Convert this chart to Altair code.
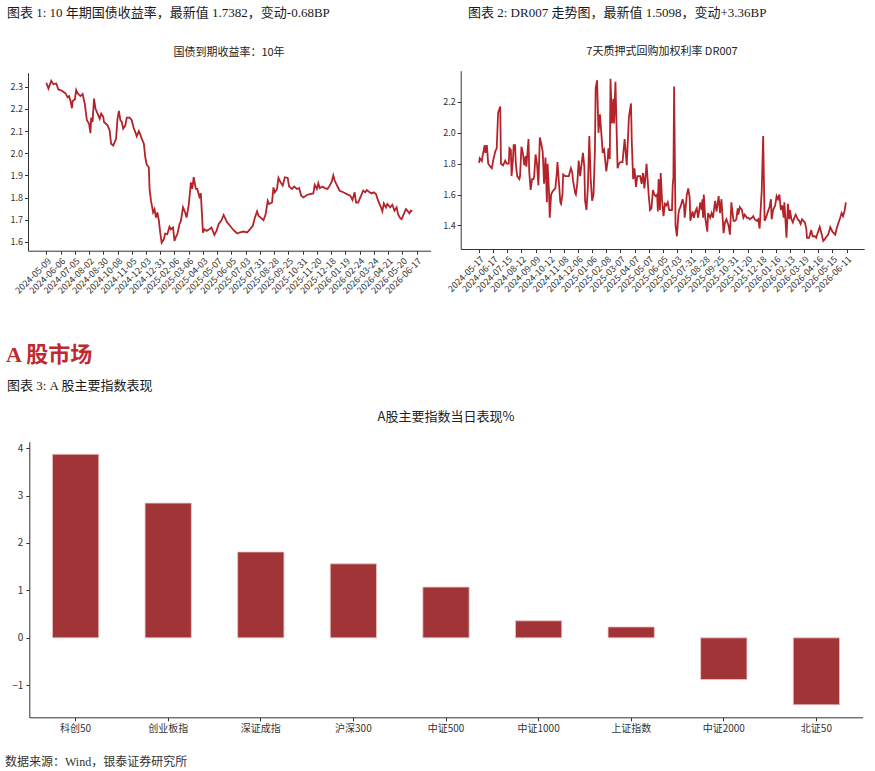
import altair as alt
import pandas as pd

# ---------------- data ----------------
# 10Y government bond yield (trading-day index, yield %)
bond_idx = [0, 3, 7, 10, 14, 17, 22, 27, 30, 32,
            34, 36, 37, 40, 42, 44, 48, 51, 54, 57,
            60, 62, 63, 65, 67, 69, 72, 75, 77, 80,
            81, 86, 89, 91, 94, 96, 98, 100, 102, 104,
            106, 108, 111, 113, 117, 120, 123, 125, 127, 130,
            132, 134, 137, 139, 141, 144, 145, 147, 150, 152,
            154, 156, 158, 160, 162, 165, 167, 170, 173, 175,
            178, 180, 182, 184, 187, 189, 192, 195, 197, 200,
            202, 203, 205, 207, 210, 212, 215, 217, 220, 222,
            225, 229, 232, 236, 239, 242, 246, 249, 254, 258,
            263, 268, 272, 277, 282, 286, 290, 293, 296, 298,
            301, 305, 308, 311, 313, 317, 319, 321, 324, 326,
            329, 332, 335, 339, 341, 345, 348, 352, 355, 358,
            361, 366, 370, 375, 377, 380, 382, 384, 388, 391,
            395, 398, 401, 403, 405, 409, 412, 417, 422, 427,
            430, 433, 435, 438, 441, 445, 448, 450, 454, 457,
            460, 463, 466, 470, 472, 474, 477, 479, 483, 486,
            489, 492, 494, 497, 499, 502, 505, 507, 510, 512,
            514]
bond_val = [2.318, 2.292, 2.327, 2.312, 2.315, 2.288, 2.282, 2.270, 2.252, 2.258,
            2.236, 2.203, 2.236, 2.243, 2.285, 2.270, 2.258, 2.267, 2.224, 2.149,
            2.134, 2.091, 2.161, 2.141, 2.247, 2.202, 2.179, 2.156, 2.179, 2.164,
            2.141, 2.126, 2.103, 2.043, 2.035, 2.050, 2.065, 2.156, 2.191, 2.149,
            2.141, 2.111, 2.126, 2.161, 2.161, 2.149, 2.111, 2.096, 2.076, 2.100,
            2.085, 2.066, 2.043, 1.982, 1.949, 1.937, 1.839, 1.786, 1.733, 1.748,
            1.710, 1.733, 1.698, 1.642, 1.597, 1.612, 1.638, 1.635, 1.668, 1.657,
            1.665, 1.605, 1.623, 1.635, 1.680, 1.695, 1.756, 1.733, 1.710, 1.767,
            1.831, 1.869, 1.839, 1.892, 1.839, 1.839, 1.804, 1.819, 1.642, 1.657,
            1.650, 1.657, 1.665, 1.632, 1.650, 1.680, 1.698, 1.722, 1.688, 1.673,
            1.653, 1.638, 1.643, 1.647, 1.643, 1.657, 1.673, 1.710, 1.738, 1.718,
            1.710, 1.698, 1.725, 1.786, 1.771, 1.778, 1.846, 1.824, 1.839, 1.889,
            1.869, 1.854, 1.892, 1.889, 1.850, 1.839, 1.850, 1.839, 1.843, 1.809,
            1.801, 1.812, 1.816, 1.819, 1.858, 1.839, 1.865, 1.843, 1.850, 1.843,
            1.839, 1.854, 1.873, 1.900, 1.877, 1.850, 1.831, 1.824, 1.816, 1.809,
            1.789, 1.824, 1.778, 1.778, 1.801, 1.831, 1.824, 1.834, 1.824, 1.819,
            1.824, 1.816, 1.786, 1.756, 1.738, 1.774, 1.756, 1.771, 1.756, 1.768,
            1.741, 1.756, 1.725, 1.707, 1.703, 1.725, 1.748, 1.741, 1.729, 1.741,
            1.738]
bond_ticks = ["2024-05-09", "2024-06-06", "2024-07-05", "2024-08-02", "2024-08-30",
              "2024-10-08", "2024-11-05", "2024-12-03", "2024-12-31", "2025-02-06",
              "2025-03-06", "2025-04-03", "2025-05-07", "2025-06-05", "2025-07-03",
              "2025-07-31", "2025-08-28", "2025-09-25", "2025-10-31", "2025-11-20",
              "2025-12-18", "2026-01-19", "2026-02-24", "2026-03-24", "2026-04-21",
              "2026-05-20", "2026-06-17"]

# DR007 (trading-day index, rate %)
dr_idx = [0, 1, 4, 5, 8, 9, 11, 13, 16, 18,
          20, 23, 25, 27, 30, 31, 34, 37, 39, 42,
          43, 45, 46, 48, 49, 51, 52, 54, 57, 58,
          60, 62, 64, 66, 67, 70, 71, 73, 75, 77,
          78, 80, 82, 84, 86, 88, 90, 91, 92, 94,
          96, 97, 99, 100, 102, 104, 106, 108, 110, 111,
          113, 115, 116, 118, 119, 122, 124, 127, 130, 132,
          133, 136, 137, 139, 141, 143, 147, 149, 150, 152,
          154, 156, 158, 160, 162, 164, 165, 167, 169, 171,
          173, 175, 177, 179, 180, 182, 183, 185, 186, 188,
          190, 191, 193, 196, 198, 200, 203, 206, 209, 212,
          215, 216, 218, 220, 222, 224, 228, 230, 232, 234,
          237, 240, 242, 244, 246, 248, 250, 252, 253, 254,
          256, 257, 259, 261, 263, 265, 267, 269, 273, 274,
          275, 276, 278, 280, 282, 283, 285, 288, 290, 291,
          294, 296, 298, 299, 302, 304, 306, 308, 310, 313,
          315, 316, 317, 318, 320, 323, 324, 327, 329, 331,
          334, 336, 339, 341, 343, 346, 348, 350, 353, 355,
          357, 360, 362, 364, 366, 367, 369, 372, 374, 376,
          379, 381, 383, 386, 388, 390, 393, 395, 397, 400,
          402, 404, 406, 408, 411, 413, 414, 416, 419, 421,
          423, 425, 427, 429, 431, 432, 435, 437, 439, 440,
          442, 444, 446, 448, 451, 453, 455, 457, 461, 463,
          464, 467, 470, 472, 475, 477, 479, 482, 485, 487,
          489, 492, 494, 497, 500, 504, 506, 508, 511, 513,
          515, 517, 519]
dr_val = [1.806, 1.835, 1.817, 1.85, 1.92, 1.87, 1.92, 1.80, 1.78, 1.77,
          1.82, 1.88, 1.90, 2.13, 2.17, 1.80, 1.79, 1.82, 1.80, 1.80,
          1.90, 1.89, 1.72, 1.83, 1.92, 1.92, 1.80, 1.72, 1.70, 1.72,
          1.91, 1.87, 1.79, 1.85, 1.78, 1.96, 1.75, 1.63, 1.70, 1.70,
          1.72, 1.86, 1.80, 1.66, 1.97, 1.93, 1.88, 1.78, 1.67, 1.84,
          1.55, 1.80, 1.62, 1.45, 1.60, 1.62, 1.63, 1.64, 1.74, 1.81,
          1.68, 1.55, 1.54, 1.60, 1.73, 1.72, 1.72, 1.72, 1.77, 1.74,
          1.69, 1.61, 1.60, 1.67, 1.82, 1.72, 1.87, 1.78, 1.56, 1.50,
          1.65, 1.98, 1.70, 1.56, 1.60, 1.89, 2.29, 2.34, 2.00, 2.12,
          2.00, 1.87, 1.89, 1.80, 1.75, 1.82, 1.90, 1.83, 2.35, 2.06,
          2.22, 2.06, 2.33, 1.77, 1.80, 1.81, 1.81, 1.96, 1.79, 2.10,
          2.19, 1.96, 1.70, 1.77, 1.65, 1.72, 1.72, 1.67, 1.74, 1.64,
          1.80, 1.60, 1.50, 1.51, 1.63, 1.60, 1.59, 1.60, 1.49, 1.70,
          1.50, 1.74, 1.56, 1.46, 1.54, 1.53, 1.55, 1.50, 1.50, 1.66,
          1.71, 2.30, 1.40, 1.33, 1.47, 1.50, 1.52, 1.57, 1.53, 1.45,
          1.60, 1.64, 1.58, 1.43, 1.49, 1.45, 1.49, 1.51, 1.45, 1.55,
          1.50, 1.57, 1.45, 1.60, 1.45, 1.36, 1.48, 1.45, 1.48, 1.45,
          1.56, 1.49, 1.59, 1.48, 1.57, 1.35, 1.42, 1.44, 1.40, 1.34,
          1.55, 1.43, 1.43, 1.44, 1.51, 1.47, 1.52, 1.50, 1.45, 1.47,
          1.45, 1.45, 1.44, 1.45, 1.46, 1.44, 1.43, 1.44, 1.38, 1.63,
          1.98, 1.43, 1.45, 1.48, 1.52, 1.57, 1.44, 1.50, 1.53, 1.59,
          1.57, 1.60, 1.50, 1.53, 1.45, 1.55, 1.32, 1.54, 1.44, 1.50,
          1.44, 1.42, 1.45, 1.47, 1.44, 1.43, 1.41, 1.44, 1.42, 1.38,
          1.32, 1.32, 1.37, 1.33, 1.33, 1.32, 1.35, 1.39, 1.34, 1.30,
          1.31, 1.33, 1.34, 1.39, 1.36, 1.34, 1.38, 1.41, 1.45, 1.48,
          1.46, 1.49, 1.55]
dr_ticks = ["2024-05-17", "2024-06-17", "2024-07-15", "2024-08-12", "2024-09-09",
            "2024-10-12", "2024-11-08", "2024-12-06", "2025-01-06", "2025-02-08",
            "2025-03-07", "2025-04-07", "2025-05-07", "2025-06-05", "2025-07-03",
            "2025-07-31", "2025-08-28", "2025-09-25", "2025-10-31", "2025-11-20",
            "2025-12-18", "2026-01-16", "2026-02-13", "2026-03-19", "2026-04-16",
            "2026-05-15", "2026-06-11"]

# A-share index daily performance (%)
idx_names = ["科创50", "创业板指", "深证成指", "沪深300", "中证500",
             "中证1000", "上证指数", "中证2000", "北证50"]
idx_pct = [3.87, 2.84, 1.81, 1.56, 1.07, 0.36, 0.23, -0.88, -1.41]

# ---------------- styling ----------------
W, H = 875, 771
LINE = "#B5232A"
BAR = "#A13437"
AX = "#333333"
CJK = "Noto Sans CJK SC"
SERIF = "'Liberation Serif', 'Noto Sans CJK SC', serif"
TICK_STEP = 20


def padded(vals):
    lo, hi = min(vals), max(vals)
    p = 0.05 * (hi - lo)
    return [lo - p, hi + p]


def label_expr(ticks):
    arr = ",".join("'%s'" % t for t in ticks)
    return "[%s][round(datum.value/%d)]" % (arr, TICK_STEP)


def line_panel(idx, vals, ticks, y_ticks, x_rng, y_rng):
    df = pd.DataFrame({"idx": idx, "val": vals})
    xdom = padded(idx)
    ydom = padded(vals)
    tick_vals = [i * TICK_STEP for i in range(len(ticks))]
    return alt.Chart(df).mark_line(color=LINE, strokeWidth=1.8).encode(
        x=alt.X("idx:Q",
                scale=alt.Scale(domain=xdom, range=x_rng, nice=False, zero=False),
                axis=alt.Axis(orient="bottom", offset=y_rng[0] - H, title=None,
                              values=tick_vals, labelExpr=label_expr(ticks),
                              labelAngle=-45, labelAlign="right", labelBaseline="top",
                              labelFontSize=9, labelFont=CJK, labelColor=AX,
                              labelPadding=2, labelOverlap=False, labelFlush=False,
                              tickSize=3.5, tickColor=AX, domainColor=AX, grid=False)),
        y=alt.Y("val:Q",
                scale=alt.Scale(domain=ydom, range=y_rng, nice=False, zero=False),
                axis=alt.Axis(orient="left", offset=-x_rng[0], title=None,
                              values=y_ticks, format=".1f",
                              labelFontSize=9, labelFont=CJK, labelColor=AX,
                              labelPadding=2, tickSize=3.5, tickColor=AX,
                              domainColor=AX, grid=False)),
    )


def text_layer(txt, x, y, size, color="#1a1a1a", font=SERIF, weight="normal",
               align="left"):
    return alt.Chart(pd.DataFrame({"t": [txt]})).mark_text(
        align=align, baseline="middle", fontSize=size, font=font,
        color=color, fontWeight=weight
    ).encode(x=alt.value(x), y=alt.value(y), text="t:N")


line1 = line_panel(bond_idx, bond_val, bond_ticks,
                   [1.6, 1.7, 1.8, 1.9, 2.0, 2.1, 2.2, 2.3],
                   [28, 430.6], [250.7, 72.7])
line2 = line_panel(dr_idx, dr_val, dr_ticks,
                   [1.4, 1.6, 1.8, 2.0, 2.2],
                   [460.7, 864.2], [249, 70.7])

bar_df = pd.DataFrame({"name": idx_names, "pct": idx_pct})
bar_rng_y = [717.3, 441.7]
bars = alt.Chart(bar_df).mark_bar(color=BAR, stroke="#ECC6C6", strokeWidth=0.8).encode(
    x=alt.X("name:N", sort=idx_names,
            scale=alt.Scale(range=[29.3, 862.7], paddingInner=0.5, paddingOuter=0.25),
            axis=alt.Axis(orient="bottom", offset=bar_rng_y[0] - H, title=None,
                          labelAngle=0, labelFontSize=10, labelFont=CJK,
                          labelColor=AX, labelPadding=3, tickSize=3.5,
                          tickColor=AX, domainColor=AX, grid=False)),
    y=alt.Y("pct:Q",
            scale=alt.Scale(domain=padded(idx_pct), range=bar_rng_y, nice=False, zero=False),
            axis=alt.Axis(orient="left", offset=-29.3, title=None,
                          values=[-1, 0, 1, 2, 3, 4], format="d",
                          labelFontSize=10, labelFont=CJK, labelColor=AX,
                          labelPadding=3, tickSize=3.5, tickColor=AX,
                          domainColor=AX, grid=False)),
    y2=alt.datum(0),
)

texts = [
    text_layer("图表 1: 10 年期国债收益率，最新值 1.7382，变动-0.68BP", 7, 12.5, 13),
    text_layer("图表 2: DR007 走势图，最新值 1.5098，变动+3.36BP", 468, 12.5, 13),
    text_layer("国债到期收益率：10年", 229, 53, 11, color="#222222", font=CJK, align="center"),
    text_layer("7天质押式回购加权利率 DR007", 662, 52, 11, color="#222222", font=CJK, align="center"),
    text_layer("A 股市场", 6, 355, 22, color="#BE2A2E", weight="bold"),
    text_layer("图表 3: A 股主要指数表现", 7, 386, 13),
    text_layer("A股主要指数当日表现%", 446, 417, 13, color="#222222", font=CJK, align="center"),
    text_layer("数据来源：Wind，银泰证券研究所", 5, 762, 12, color="#333333"),
]

chart = alt.layer(line1, line2, bars, *texts).resolve_scale(
    x="independent", y="independent"
).properties(
    width=W, height=H,
    autosize=alt.AutoSizeParams(type="none"),
    padding=0,
    background="white",
).configure_view(stroke=None)

chart.save("out.html", embed_options={"renderer": "svg", "actions": False})
